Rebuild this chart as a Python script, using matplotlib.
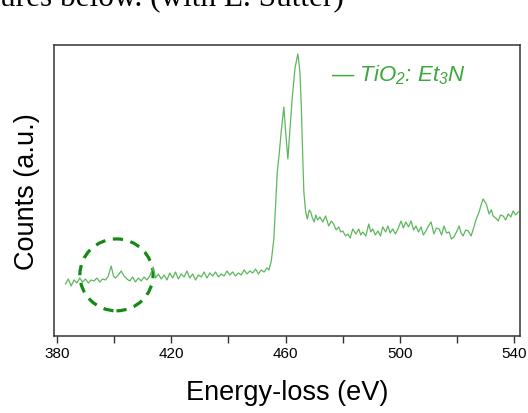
import matplotlib
matplotlib.use("Agg")
import matplotlib.pyplot as plt
from matplotlib.patches import Ellipse

plt.rcParams["mathtext.fontset"] = "custom"
plt.rcParams["mathtext.rm"] = "Liberation Sans:italic"
plt.rcParams["mathtext.it"] = "Liberation Sans:italic"

# ── data ────────────────────────────────────────────────────────────────────
energy = [
    383, 384, 385, 386, 387, 388, 389, 390, 391, 392, 393, 394, 395, 396, 397,
    398, 399, 399.8, 400.5, 401.5, 402.5, 403.5, 404.5, 405.5, 406.5, 407.5,
    408.5, 409.5, 410.5, 411.5, 412.5, 413.7, 414.5, 415.5, 416.5, 417.5,
    418.5, 419.5, 420.5, 421.5, 422.5, 423.5, 424.5, 425.5, 426.5, 427.5,
    428.5, 429.5, 430.5, 431.5, 432.5, 433.5, 434.5, 435.5, 436.5, 437.5,
    438.5, 439.5, 440.5, 441.5, 442.5, 443.5, 444.5, 445.5, 446.5, 447.5,
    448.5, 449.5, 450.5, 451.5, 452.5, 453.5, 454.2, 455.0, 455.9, 457.1,
    457.7, 458.5, 459.4, 460.0, 460.8, 461.5, 462.3, 463.3, 464.3, 465.0,
    465.5, 466.0, 466.4, 467.0, 467.6, 468.3, 468.8, 469.4, 470.0, 470.6,
    471.2, 472.0, 473.0, 474.0, 475.1, 476.0, 476.8, 477.7, 478.6, 479.3,
    480.0, 481.0, 481.8, 482.6, 483.5, 484.6, 485.6, 486.3, 487.0, 488.1,
    489.1, 489.8, 490.5, 491.4, 492.3, 493.2, 494.0, 495.0, 495.8, 496.6,
    497.5, 498.4, 499.3, 500.4, 501.2, 502.1, 503.0, 503.9, 504.8, 505.6,
    506.5, 507.4, 508.2, 509.1, 510.0, 510.9, 511.9, 512.8, 513.7, 514.6,
    515.4, 516.3, 517.2, 518.0, 518.9, 519.8, 520.7, 521.4, 522.1, 523.0,
    523.9, 524.9, 525.8, 526.7, 527.7, 528.4, 529.1, 530.2, 531.2, 532.0,
    532.6, 533.5, 534.4, 535.2, 536.1, 537.0, 537.9, 538.8, 539.6, 540.5,
    541.4,
]
counts = [
    52, 57, 50, 56, 53, 58, 54, 57, 53, 56, 55, 58, 54, 57, 56,
    60, 70, 60, 58, 61, 65, 60, 57, 55, 59, 54,
    58, 55, 59, 56, 60, 69, 58, 62, 57, 61,
    56, 63, 58, 64, 57, 62, 59, 65, 58, 62,
    56, 61, 59, 64, 58, 63, 60, 64, 59, 62,
    60, 65, 61, 64, 60, 63, 61, 66, 62, 65,
    63, 67, 62, 66, 64, 68, 66, 75, 97, 164,
    180, 205, 229, 205, 177, 205, 237, 268, 282, 265,
    230, 180, 144, 125, 117, 126, 124, 118, 114, 121,
    116, 119, 114, 120, 110, 115, 112, 106, 109, 104,
    105, 100, 102, 98, 107, 102, 107, 101, 104, 100,
    112, 104, 107, 101, 105, 100, 109, 104, 110, 103,
    107, 102, 107, 115, 108, 114, 109, 115, 106, 110,
    104, 109, 101, 105, 110, 114, 102, 108, 107, 101,
    110, 103, 104, 97, 99, 104, 110, 103, 100, 106,
    105, 100, 108, 117, 124, 131, 137, 132, 122, 126,
    120, 118, 115, 121, 120, 116, 122, 119, 125, 121,
    124,
]

xticks = [380, 400, 420, 440, 460, 480, 500, 520, 540]
xticklabels = ["380", "", "420", "", "460", "", "500", "", "540"]

# ── colours ─────────────────────────────────────────────────────────────────
LINE = "#5cb85c"
TEXT_GREEN = "#3aa83a"
CIRCLE = "#138a13"

fig = plt.figure(figsize=(5.28, 4.14), dpi=100)
ax = fig.add_axes([0.1023, 0.186, 0.8825, 0.703])

ax.plot(energy, counts, color=LINE, lw=0.9)

ax.set_xlim(379, 542)
ax.set_ylim(0, 291)
ax.set_xticks(xticks)
ax.set_xticklabels(xticklabels, fontsize=11, family="Liberation Sans")
ax.tick_params(axis="x", direction="out", length=5, width=1, pad=2, color="#333333")
ax.set_yticks([])
for s in ax.spines.values():
    s.set_color("#333333")
    s.set_linewidth(1.1)

ax.set_xlabel("Energy-loss (eV)", fontsize=19.5, family="Liberation Sans", labelpad=14)
ax.set_ylabel("Counts (a.u.)", fontsize=19.5, family="Liberation Sans", labelpad=10)

# dashed circle around the N K-edge region
ax.add_patch(Ellipse((0.134, 0.21), 0.157, 0.247, transform=ax.transAxes,
                     fill=False, ec=CIRCLE, lw=2.3, ls=(0, (3.2, 2.4))))

# legend-like label
ax.text(0.595, 0.90, "— TiO$_2$: Et$_3$N", transform=ax.transAxes,
        color=TEXT_GREEN, fontsize=16, style="italic", family="Liberation Sans",
        ha="left", va="center")

# cropped caption text at the top of the page
fig.text(0.0, 1 - 6 / 414, "ures below. (with E. Sutter)", fontsize=22.5,
         family="Liberation Serif", ha="left", va="baseline")

fig.savefig("out.png", dpi=100)
